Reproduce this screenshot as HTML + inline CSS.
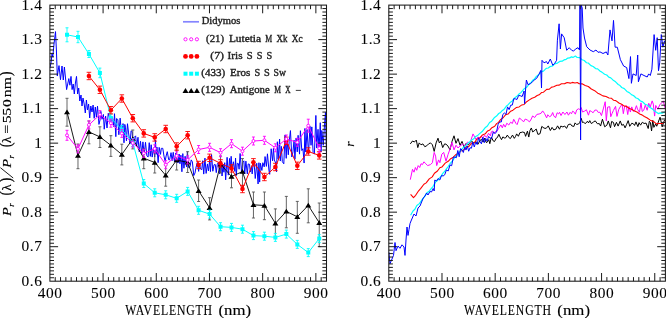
<!DOCTYPE html><html><head><meta charset="utf-8"><style>
html,body{margin:0;padding:0;background:#fff;width:666px;height:318px;overflow:hidden}
svg{display:block}
.tl{font-family:"Liberation Serif",serif;font-size:14.0px;letter-spacing:0.5px;fill:#000;stroke:#000;stroke-width:0.08px}
.al{font-family:"Liberation Serif",serif;font-size:14.0px;letter-spacing:0px;fill:#000;stroke:#000;stroke-width:0.12px}
.al2{font-family:"Liberation Serif",serif;font-size:13.2px;fill:#000;stroke:#000;stroke-width:0.15px}
.lg{font-family:"Liberation Serif",serif;font-size:9.6px;fill:#222;stroke:#222;stroke-width:0.35px}
</style></head><body><svg width="666" height="318" viewBox="0 0 666 318" style="will-change:transform">
<rect width="666" height="318" fill="#fff"/>
<defs><clipPath id="cl"><rect x="49.90" y="5.10" width="276.60" height="276.10"/></clipPath>
<clipPath id="cr"><rect x="388.80" y="5.10" width="276.60" height="276.10"/></clipPath></defs>
<g clip-path="url(#cl)">
<polyline points="49.90,68.00 51.00,63.00 52.00,54.00 52.80,57.00 54.00,44.00 55.50,31.60 56.40,50.00 57.30,76.00 59.00,65.60 60.50,79.70 62.00,66.00 63.30,80.00 64.40,67.00 65.50,78.00 66.60,89.60 68.80,78.60 69.90,85.20 71.00,76.40 72.10,89.60 73.20,84.00 74.30,94.00 75.40,83.00 76.50,76.40 77.60,94.00 78.70,88.00 79.80,101.00 81.00,95.00 82.00,106.00 83.00,98.00 84.20,104.00 85.30,113.00 86.40,100.00 87.50,110.00 88.60,104.00 89.70,118.00 90.80,106.00 92.00,112.00 93.10,105.00 94.20,118.30 95.30,107.00 96.40,117.00 97.50,106.16 98.95,124.42 100.03,119.92 100.82,111.34 101.98,119.28 103.41,114.45 104.22,129.22 105.62,116.08 107.02,127.98 108.26,113.31 109.73,118.05 110.56,124.73 111.75,116.98 112.69,118.73 113.78,126.61 114.50,113.70 115.83,136.66 116.56,118.52 117.87,119.64 118.85,134.74 120.15,118.11 121.61,134.17 123.04,123.59 123.99,142.80 124.81,124.39 125.55,127.79 126.44,140.75 127.48,123.73 128.57,132.93 130.03,143.75 131.08,130.80 132.14,131.60 133.21,145.94 134.14,137.43 135.63,135.87 136.60,146.23 137.99,137.28 139.25,151.81 140.51,141.29 141.77,154.38 142.93,141.89 144.17,154.57 145.51,142.34 146.87,155.80 148.12,156.99 149.24,142.68 150.32,156.38 151.16,144.75 152.20,157.09 153.48,147.73 154.70,157.05 155.43,140.09 156.24,154.34 156.96,147.11 158.14,162.63 159.16,147.37 160.53,154.37 161.30,148.35 162.77,148.32 163.98,156.05 165.13,161.37 166.11,156.01 167.27,151.68 168.68,159.75 169.61,159.85 171.04,152.66 172.14,160.63 173.23,152.34 174.43,161.50 175.79,153.12 177.24,162.37 178.06,162.99 179.14,154.03 179.94,163.78 180.91,155.18 181.90,171.76 182.80,153.62 183.94,168.24 185.10,156.24 186.53,166.81 187.38,151.71 188.75,167.72 190.08,166.38 191.22,159.88 192.38,161.80 193.74,175.62 195.02,172.99 195.76,168.47 197.22,162.64 198.65,171.39 199.48,163.64 200.49,168.88 201.78,169.69 202.73,160.68 203.73,174.09 204.94,158.13 206.13,173.42 207.43,163.92 208.43,171.00 209.65,160.33 210.45,171.62 211.54,154.59 212.82,171.23 214.06,164.70 215.29,164.60 216.28,172.62 217.26,164.43 218.48,162.19 219.59,174.00 220.61,164.83 221.34,161.56 222.04,176.01 223.08,164.11 223.91,172.23 224.73,162.68 225.66,179.86 227.10,157.31 228.34,175.11 229.57,158.45 230.40,168.09 231.17,156.30 232.12,170.10 233.39,161.75 234.84,171.43 235.55,158.13 236.28,175.55 237.26,163.34 238.36,163.58 239.10,169.21 240.12,153.47 241.60,172.90 242.72,162.57 243.86,160.83 244.73,173.90 245.89,161.14 247.32,173.90 248.20,163.95 249.51,164.27 250.28,172.05 251.44,166.55 252.18,173.96 252.96,165.13 254.10,162.99 255.26,178.51 256.73,163.31 258.08,183.97 258.91,162.73 259.66,182.09 260.40,163.23 261.86,170.43 262.85,162.71 264.21,166.87 265.05,156.57 266.39,166.39 267.46,153.82 268.91,170.13 269.69,174.30 271.17,148.74 272.58,160.88 273.44,148.42 274.33,159.96 275.70,163.06 276.52,171.74 277.35,141.74 278.21,159.05 279.60,139.08 280.31,161.04 281.32,146.35 282.33,161.65 283.81,163.81 285.05,134.93 286.22,158.34 286.99,138.98 288.29,154.77 289.21,141.38 290.45,130.59 291.82,156.96 292.93,151.91 294.07,140.21 294.91,159.29 296.10,138.09 297.25,151.86 298.12,135.32 299.53,154.14 300.41,130.71 301.82,150.56 302.94,148.69 304.12,163.04 304.92,128.44 305.77,151.97 307.05,129.47 308.52,153.94 309.96,126.26 311.04,145.31 311.81,126.89 313.12,152.60 314.39,154.09 315.86,115.44 316.73,148.05 318.02,129.32 319.02,150.09 320.27,122.71 321.03,151.91 321.82,130.47 323.26,145.33 324.51,124.96 325.48,112.44 326.52,156.69 327.44,123.97" fill="none" stroke="#0000ff" stroke-width="1.0" stroke-linejoin="round" />
<path d="M67.00 98.30V126.20M65.50 98.30h3.0M65.50 126.20h3.0M77.97 144.00V168.70M76.47 144.00h3.0M76.47 168.70h3.0M88.93 121.00V143.80M87.43 121.00h3.0M87.43 143.80h3.0M99.90 126.80V147.50M98.40 126.80h3.0M98.40 147.50h3.0M110.87 135.70V156.40M109.37 135.70h3.0M109.37 156.40h3.0M121.84 144.20V164.90M120.34 144.20h3.0M120.34 164.90h3.0M132.80 130.00V148.90M131.30 130.00h3.0M131.30 148.90h3.0M143.77 148.90V168.70M142.27 148.90h3.0M142.27 168.70h3.0M154.74 152.60V173.00M153.24 152.60h3.0M153.24 173.00h3.0M165.70 164.90V186.20M164.20 164.90h3.0M164.20 186.20h3.0M176.67 150.00V170.00M175.17 150.00h3.0M175.17 170.00h3.0M187.64 151.70V172.50M186.14 151.70h3.0M186.14 172.50h3.0M198.60 180.00V201.50M197.10 180.00h3.0M197.10 201.50h3.0M209.57 197.70V219.90M208.07 197.70h3.0M208.07 219.90h3.0M220.54 156.00V173.00M219.04 156.00h3.0M219.04 173.00h3.0M231.50 165.20V187.80M230.00 165.20h3.0M230.00 187.80h3.0M242.47 158.60V186.00M240.97 158.60h3.0M240.97 186.00h3.0M253.44 192.00V218.00M251.94 192.00h3.0M251.94 218.00h3.0M264.41 192.00V219.70M262.91 192.00h3.0M262.91 219.70h3.0M275.37 208.90V236.60M273.87 208.90h3.0M273.87 236.60h3.0M286.34 196.40V227.80M284.84 196.40h3.0M284.84 227.80h3.0M297.31 201.40V233.30M295.81 201.40h3.0M295.81 233.30h3.0M308.27 188.80V222.80M306.77 188.80h3.0M306.77 222.80h3.0M319.24 203.00V246.60M317.74 203.00h3.0M317.74 246.60h3.0" stroke="#555" stroke-width="0.9" fill="none"/>
<polyline points="67.00,112.00 77.97,155.50 88.93,131.90 99.90,136.90 110.87,145.30 121.84,154.50 132.80,138.80 143.77,158.20 154.74,162.50 165.70,175.30 176.67,160.10 187.64,162.30 198.60,190.80 209.57,207.80 220.54,164.20 231.50,176.50 242.47,171.60 253.44,204.80 264.41,205.50 275.37,223.30 286.34,211.40 297.31,216.80 308.27,205.40 319.24,222.70" fill="none" stroke="#000" stroke-width="0.9" stroke-linejoin="round" />
<path d="M64.00 114.20L70.00 114.20L67.00 109.40ZM74.97 157.70L80.97 157.70L77.97 152.90ZM85.93 134.10L91.93 134.10L88.93 129.30ZM96.90 139.10L102.90 139.10L99.90 134.30ZM107.87 147.50L113.87 147.50L110.87 142.70ZM118.84 156.70L124.84 156.70L121.84 151.90ZM129.80 141.00L135.80 141.00L132.80 136.20ZM140.77 160.40L146.77 160.40L143.77 155.60ZM151.74 164.70L157.74 164.70L154.74 159.90ZM162.70 177.50L168.70 177.50L165.70 172.70ZM173.67 162.30L179.67 162.30L176.67 157.50ZM184.64 164.50L190.64 164.50L187.64 159.70ZM195.60 193.00L201.60 193.00L198.60 188.20ZM206.57 210.00L212.57 210.00L209.57 205.20ZM217.54 166.40L223.54 166.40L220.54 161.60ZM228.50 178.70L234.50 178.70L231.50 173.90ZM239.47 173.80L245.47 173.80L242.47 169.00ZM250.44 207.00L256.44 207.00L253.44 202.20ZM261.41 207.70L267.41 207.70L264.41 202.90ZM272.37 225.50L278.37 225.50L275.37 220.70ZM283.34 213.60L289.34 213.60L286.34 208.80ZM294.31 219.00L300.31 219.00L297.31 214.20ZM305.27 207.60L311.27 207.60L308.27 202.80ZM316.24 224.90L322.24 224.90L319.24 220.10Z" fill="#000"/>
<path d="M67.00 27.80V41.80M65.50 27.80h3.0M65.50 41.80h3.0M77.97 31.30V42.70M76.47 31.30h3.0M76.47 42.70h3.0M88.93 50.50V57.50M87.43 50.50h3.0M87.43 57.50h3.0M99.90 68.10V77.70M98.40 68.10h3.0M98.40 77.70h3.0M110.87 114.00V122.00M109.37 114.00h3.0M109.37 122.00h3.0M121.84 125.50V133.50M120.34 125.50h3.0M120.34 133.50h3.0M132.80 138.50V146.50M131.30 138.50h3.0M131.30 146.50h3.0M143.77 179.50V187.50M142.27 179.50h3.0M142.27 187.50h3.0M154.74 188.80V196.80M153.24 188.80h3.0M153.24 196.80h3.0M165.70 190.80V198.80M164.20 190.80h3.0M164.20 198.80h3.0M176.67 194.30V202.30M175.17 194.30h3.0M175.17 202.30h3.0M187.64 187.40V195.40M186.14 187.40h3.0M186.14 195.40h3.0M198.60 206.30V214.30M197.10 206.30h3.0M197.10 214.30h3.0M209.57 210.10V218.10M208.07 210.10h3.0M208.07 218.10h3.0M220.54 222.70V230.70M219.04 222.70h3.0M219.04 230.70h3.0M231.50 223.40V231.40M230.00 223.40h3.0M230.00 231.40h3.0M242.47 225.20V233.20M240.97 225.20h3.0M240.97 233.20h3.0M253.44 231.60V239.60M251.94 231.60h3.0M251.94 239.60h3.0M264.41 232.20V240.20M262.91 232.20h3.0M262.91 240.20h3.0M275.37 233.40V241.40M273.87 233.40h3.0M273.87 241.40h3.0M286.34 230.10V238.10M284.84 230.10h3.0M284.84 238.10h3.0M297.31 240.40V248.40M295.81 240.40h3.0M295.81 248.40h3.0M308.27 248.60V256.60M306.77 248.60h3.0M306.77 256.60h3.0M319.24 234.60V242.60M317.74 234.60h3.0M317.74 242.60h3.0" stroke="#00ffff" stroke-width="0.9" fill="none"/>
<polyline points="67.00,34.80 77.97,37.00 88.93,54.00 99.90,72.90 110.87,118.00 121.84,129.50 132.80,142.50 143.77,183.50 154.74,192.80 165.70,194.80 176.67,198.30 187.64,191.40 198.60,210.30 209.57,214.10 220.54,226.70 231.50,227.40 242.47,229.20 253.44,235.60 264.41,236.20 275.37,237.40 286.34,234.10 297.31,244.40 308.27,252.60 319.24,238.60" fill="none" stroke="#00ffff" stroke-width="1.0" stroke-linejoin="round" />
<path d="M65.00 32.80h4v4h-4ZM75.97 35.00h4v4h-4ZM86.93 52.00h4v4h-4ZM97.90 70.90h4v4h-4ZM108.87 116.00h4v4h-4ZM119.84 127.50h4v4h-4ZM130.80 140.50h4v4h-4ZM141.77 181.50h4v4h-4ZM152.74 190.80h4v4h-4ZM163.70 192.80h4v4h-4ZM174.67 196.30h4v4h-4ZM185.64 189.40h4v4h-4ZM196.60 208.30h4v4h-4ZM207.57 212.10h4v4h-4ZM218.54 224.70h4v4h-4ZM229.50 225.40h4v4h-4ZM240.47 227.20h4v4h-4ZM251.44 233.60h4v4h-4ZM262.41 234.20h4v4h-4ZM273.37 235.40h4v4h-4ZM284.34 232.10h4v4h-4ZM295.31 242.40h4v4h-4ZM306.27 250.60h4v4h-4ZM317.24 236.60h4v4h-4Z" fill="#00ffff"/>
<path d="M88.93 72.30V79.70M86.63 72.30h4.6M86.63 79.70h4.6M99.90 86.10V93.50M97.60 86.10h4.6M97.60 93.50h4.6M110.87 106.50V113.90M108.57 106.50h4.6M108.57 113.90h4.6M121.84 94.80V102.20M119.54 94.80h4.6M119.54 102.20h4.6M132.80 114.50V121.90M130.50 114.50h4.6M130.50 121.90h4.6M143.77 129.70V137.10M141.47 129.70h4.6M141.47 137.10h4.6M154.74 133.70V141.10M152.44 133.70h4.6M152.44 141.10h4.6M165.70 125.30V132.70M163.40 125.30h4.6M163.40 132.70h4.6M176.67 142.80V150.20M174.37 142.80h4.6M174.37 150.20h4.6M187.64 131.50V138.90M185.34 131.50h4.6M185.34 138.90h4.6M198.60 161.30V168.70M196.30 161.30h4.6M196.30 168.70h4.6M209.57 154.10V161.50M207.27 154.10h4.6M207.27 161.50h4.6M220.54 159.70V167.10M218.24 159.70h4.6M218.24 167.10h4.6M231.50 164.70V172.10M229.20 164.70h4.6M229.20 172.10h4.6M242.47 185.30V192.70M240.17 185.30h4.6M240.17 192.70h4.6M253.44 158.60V166.00M251.14 158.60h4.6M251.14 166.00h4.6M264.41 173.30V180.70M262.11 173.30h4.6M262.11 180.70h4.6M275.37 163.30V170.70M273.07 163.30h4.6M273.07 170.70h4.6M286.34 137.10V144.50M284.04 137.10h4.6M284.04 144.50h4.6M297.31 162.10V169.50M295.01 162.10h4.6M295.01 169.50h4.6M308.27 147.80V155.20M305.97 147.80h4.6M305.97 155.20h4.6M319.24 151.70V159.10M316.94 151.70h4.6M316.94 159.10h4.6" stroke="#ff0000" stroke-width="0.9" fill="none"/>
<polyline points="88.93,76.00 99.90,89.80 110.87,110.20 121.84,98.50 132.80,118.20 143.77,133.40 154.74,137.40 165.70,129.00 176.67,146.50 187.64,135.20 198.60,165.00 209.57,157.80 220.54,163.40 231.50,168.40 242.47,189.00 253.44,162.30 264.41,177.00 275.37,167.00 286.34,140.80 297.31,165.80 308.27,151.50 319.24,155.40" fill="none" stroke="#ff0000" stroke-width="1.0" stroke-linejoin="round" />
<circle cx="88.93" cy="76.00" r="2.3" fill="#ff0000"/>
<circle cx="99.90" cy="89.80" r="2.3" fill="#ff0000"/>
<circle cx="110.87" cy="110.20" r="2.3" fill="#ff0000"/>
<circle cx="121.84" cy="98.50" r="2.3" fill="#ff0000"/>
<circle cx="132.80" cy="118.20" r="2.3" fill="#ff0000"/>
<circle cx="143.77" cy="133.40" r="2.3" fill="#ff0000"/>
<circle cx="154.74" cy="137.40" r="2.3" fill="#ff0000"/>
<circle cx="165.70" cy="129.00" r="2.3" fill="#ff0000"/>
<circle cx="176.67" cy="146.50" r="2.3" fill="#ff0000"/>
<circle cx="187.64" cy="135.20" r="2.3" fill="#ff0000"/>
<circle cx="198.60" cy="165.00" r="2.3" fill="#ff0000"/>
<circle cx="209.57" cy="157.80" r="2.3" fill="#ff0000"/>
<circle cx="220.54" cy="163.40" r="2.3" fill="#ff0000"/>
<circle cx="231.50" cy="168.40" r="2.3" fill="#ff0000"/>
<circle cx="242.47" cy="189.00" r="2.3" fill="#ff0000"/>
<circle cx="253.44" cy="162.30" r="2.3" fill="#ff0000"/>
<circle cx="264.41" cy="177.00" r="2.3" fill="#ff0000"/>
<circle cx="275.37" cy="167.00" r="2.3" fill="#ff0000"/>
<circle cx="286.34" cy="140.80" r="2.3" fill="#ff0000"/>
<circle cx="297.31" cy="165.80" r="2.3" fill="#ff0000"/>
<circle cx="308.27" cy="151.50" r="2.3" fill="#ff0000"/>
<circle cx="319.24" cy="155.40" r="2.3" fill="#ff0000"/>
<path d="M67.00 130.30V140.30M65.50 130.30h3.0M65.50 140.30h3.0M77.97 144.90V152.90M76.47 144.90h3.0M76.47 152.90h3.0M88.93 120.90V128.90M87.43 120.90h3.0M87.43 128.90h3.0M99.90 110.60V118.60M98.40 110.60h3.0M98.40 118.60h3.0M110.87 119.20V127.20M109.37 119.20h3.0M109.37 127.20h3.0M121.84 129.40V137.40M120.34 129.40h3.0M120.34 137.40h3.0M132.80 139.00V147.00M131.30 139.00h3.0M131.30 147.00h3.0M143.77 149.30V157.30M142.27 149.30h3.0M142.27 157.30h3.0M154.74 144.80V152.80M153.24 144.80h3.0M153.24 152.80h3.0M165.70 160.70V168.70M164.20 160.70h3.0M164.20 168.70h3.0M176.67 151.80V159.80M175.17 151.80h3.0M175.17 159.80h3.0M187.64 155.90V163.90M186.14 155.90h3.0M186.14 163.90h3.0M198.60 145.50V153.50M197.10 145.50h3.0M197.10 153.50h3.0M209.57 143.30V151.30M208.07 143.30h3.0M208.07 151.30h3.0M220.54 148.70V156.70M219.04 148.70h3.0M219.04 156.70h3.0M231.50 139.70V147.70M230.00 139.70h3.0M230.00 147.70h3.0M242.47 147.20V155.20M240.97 147.20h3.0M240.97 155.20h3.0M253.44 137.00V145.00M251.94 137.00h3.0M251.94 145.00h3.0M264.41 136.30V144.30M262.91 136.30h3.0M262.91 144.30h3.0M275.37 143.80V151.80M273.87 143.80h3.0M273.87 151.80h3.0M286.34 135.00V143.00M284.84 135.00h3.0M284.84 143.00h3.0M297.31 138.30V146.30M295.81 138.30h3.0M295.81 146.30h3.0M308.27 119.20V132.20M306.77 119.20h3.0M306.77 132.20h3.0M319.24 144.30V152.30M317.74 144.30h3.0M317.74 152.30h3.0" stroke="#ff00ff" stroke-width="0.9" fill="none"/>
<polyline points="67.00,135.30 77.97,148.90 88.93,124.90 99.90,114.60 110.87,123.20 121.84,133.40 132.80,143.00 143.77,153.30 154.74,148.80 165.70,164.70 176.67,155.80 187.64,159.90 198.60,149.50 209.57,147.30 220.54,152.70 231.50,143.70 242.47,151.20 253.44,141.00 264.41,140.30 275.37,147.80 286.34,139.00 297.31,142.30 308.27,125.70 319.24,148.30" fill="none" stroke="#ff00ff" stroke-width="1.0" stroke-linejoin="round" />
<circle cx="67.00" cy="135.30" r="1.5" fill="#fff" stroke="#ff00ff" stroke-width="0.9"/>
<circle cx="77.97" cy="148.90" r="1.5" fill="#fff" stroke="#ff00ff" stroke-width="0.9"/>
<circle cx="88.93" cy="124.90" r="1.5" fill="#fff" stroke="#ff00ff" stroke-width="0.9"/>
<circle cx="99.90" cy="114.60" r="1.5" fill="#fff" stroke="#ff00ff" stroke-width="0.9"/>
<circle cx="110.87" cy="123.20" r="1.5" fill="#fff" stroke="#ff00ff" stroke-width="0.9"/>
<circle cx="121.84" cy="133.40" r="1.5" fill="#fff" stroke="#ff00ff" stroke-width="0.9"/>
<circle cx="132.80" cy="143.00" r="1.5" fill="#fff" stroke="#ff00ff" stroke-width="0.9"/>
<circle cx="143.77" cy="153.30" r="1.5" fill="#fff" stroke="#ff00ff" stroke-width="0.9"/>
<circle cx="154.74" cy="148.80" r="1.5" fill="#fff" stroke="#ff00ff" stroke-width="0.9"/>
<circle cx="165.70" cy="164.70" r="1.5" fill="#fff" stroke="#ff00ff" stroke-width="0.9"/>
<circle cx="176.67" cy="155.80" r="1.5" fill="#fff" stroke="#ff00ff" stroke-width="0.9"/>
<circle cx="187.64" cy="159.90" r="1.5" fill="#fff" stroke="#ff00ff" stroke-width="0.9"/>
<circle cx="198.60" cy="149.50" r="1.5" fill="#fff" stroke="#ff00ff" stroke-width="0.9"/>
<circle cx="209.57" cy="147.30" r="1.5" fill="#fff" stroke="#ff00ff" stroke-width="0.9"/>
<circle cx="220.54" cy="152.70" r="1.5" fill="#fff" stroke="#ff00ff" stroke-width="0.9"/>
<circle cx="231.50" cy="143.70" r="1.5" fill="#fff" stroke="#ff00ff" stroke-width="0.9"/>
<circle cx="242.47" cy="151.20" r="1.5" fill="#fff" stroke="#ff00ff" stroke-width="0.9"/>
<circle cx="253.44" cy="141.00" r="1.5" fill="#fff" stroke="#ff00ff" stroke-width="0.9"/>
<circle cx="264.41" cy="140.30" r="1.5" fill="#fff" stroke="#ff00ff" stroke-width="0.9"/>
<circle cx="275.37" cy="147.80" r="1.5" fill="#fff" stroke="#ff00ff" stroke-width="0.9"/>
<circle cx="286.34" cy="139.00" r="1.5" fill="#fff" stroke="#ff00ff" stroke-width="0.9"/>
<circle cx="297.31" cy="142.30" r="1.5" fill="#fff" stroke="#ff00ff" stroke-width="0.9"/>
<circle cx="308.27" cy="125.70" r="1.5" fill="#fff" stroke="#ff00ff" stroke-width="0.9"/>
<circle cx="319.24" cy="148.30" r="1.5" fill="#fff" stroke="#ff00ff" stroke-width="0.9"/>
</g>
<line x1="183" y1="21.80" x2="199" y2="21.80" stroke="#8585ff" stroke-width="1.7"/>
<circle cx="185.50" cy="39.30" r="1.6" fill="#fff" stroke="#ff00ff" stroke-width="0.9"/>
<circle cx="185.50" cy="56.40" r="2.4" fill="#ff0000"/>
<rect x="183.50" y="71.70" width="4" height="4" fill="#00ffff"/>
<path d="M182.50 93.00L188.50 93.00L185.50 88.00Z" fill="#000"/>
<circle cx="191.20" cy="39.30" r="1.6" fill="#fff" stroke="#ff00ff" stroke-width="0.9"/>
<circle cx="191.20" cy="56.40" r="2.4" fill="#ff0000"/>
<rect x="189.20" y="71.70" width="4" height="4" fill="#00ffff"/>
<path d="M188.20 93.00L194.20 93.00L191.20 88.00Z" fill="#000"/>
<circle cx="196.90" cy="39.30" r="1.6" fill="#fff" stroke="#ff00ff" stroke-width="0.9"/>
<circle cx="196.90" cy="56.40" r="2.4" fill="#ff0000"/>
<rect x="194.90" y="71.70" width="4" height="4" fill="#00ffff"/>
<path d="M193.90 93.00L199.90 93.00L196.90 88.00Z" fill="#000"/>
<text class="lg" x="201.70" y="24.10" textLength="38.60" lengthAdjust="spacingAndGlyphs">Didymos</text>
<text class="lg" x="206.10" y="41.60" textLength="17.90" lengthAdjust="spacingAndGlyphs">(21)</text>
<text class="lg" x="228.90" y="41.60" textLength="32.10" lengthAdjust="spacingAndGlyphs">Lutetia</text>
<text class="lg" x="265.30" y="41.60" textLength="6.90" lengthAdjust="spacingAndGlyphs">M</text>
<text class="lg" x="276.40" y="41.60" textLength="11.00" lengthAdjust="spacingAndGlyphs">Xk</text>
<text class="lg" x="291.70" y="41.60" textLength="10.80" lengthAdjust="spacingAndGlyphs">Xc</text>
<text class="lg" x="210.30" y="58.70" textLength="13.70" lengthAdjust="spacingAndGlyphs">(7)</text>
<text class="lg" x="227.60" y="58.70" textLength="15.00" lengthAdjust="spacingAndGlyphs">Iris</text>
<text class="lg" x="246.80" y="58.70" textLength="5.90" lengthAdjust="spacingAndGlyphs">S</text>
<text class="lg" x="256.80" y="58.70" textLength="5.70" lengthAdjust="spacingAndGlyphs">S</text>
<text class="lg" x="266.60" y="58.70" textLength="5.70" lengthAdjust="spacingAndGlyphs">S</text>
<text class="lg" x="201.30" y="76.00" textLength="23.90" lengthAdjust="spacingAndGlyphs">(433)</text>
<text class="lg" x="230.00" y="76.00" textLength="20.20" lengthAdjust="spacingAndGlyphs">Eros</text>
<text class="lg" x="254.40" y="76.00" textLength="5.70" lengthAdjust="spacingAndGlyphs">S</text>
<text class="lg" x="264.10" y="76.00" textLength="5.80" lengthAdjust="spacingAndGlyphs">S</text>
<text class="lg" x="273.60" y="76.00" textLength="12.40" lengthAdjust="spacingAndGlyphs">Sw</text>
<text class="lg" x="201.30" y="92.90" textLength="23.90" lengthAdjust="spacingAndGlyphs">(129)</text>
<text class="lg" x="229.70" y="92.90" textLength="40.00" lengthAdjust="spacingAndGlyphs">Antigone</text>
<text class="lg" x="274.20" y="92.90" textLength="6.70" lengthAdjust="spacingAndGlyphs">M</text>
<text class="lg" x="285.30" y="92.90" textLength="5.30" lengthAdjust="spacingAndGlyphs">X</text>
<line x1="295.8" y1="90.40" x2="300.9" y2="90.40" stroke="#2a2a2a" stroke-width="0.9"/>
<rect x="49.90" y="5.10" width="276.60" height="276.10" fill="none" stroke="#1a1a1a" stroke-width="1.05"/>
<path d="M55.22 281.20v-4.1M55.22 5.10v4.1M60.54 281.20v-4.1M60.54 5.10v4.1M65.86 281.20v-4.1M65.86 5.10v4.1M71.18 281.20v-4.1M71.18 5.10v4.1M76.50 281.20v-4.1M76.50 5.10v4.1M81.82 281.20v-4.1M81.82 5.10v4.1M87.13 281.20v-4.1M87.13 5.10v4.1M92.45 281.20v-4.1M92.45 5.10v4.1M97.77 281.20v-4.1M97.77 5.10v4.1M103.09 281.20v-8.2M103.09 5.10v8.2M108.41 281.20v-4.1M108.41 5.10v4.1M113.73 281.20v-4.1M113.73 5.10v4.1M119.05 281.20v-4.1M119.05 5.10v4.1M124.37 281.20v-4.1M124.37 5.10v4.1M129.69 281.20v-4.1M129.69 5.10v4.1M135.01 281.20v-4.1M135.01 5.10v4.1M140.33 281.20v-4.1M140.33 5.10v4.1M145.65 281.20v-4.1M145.65 5.10v4.1M150.97 281.20v-4.1M150.97 5.10v4.1M156.28 281.20v-8.2M156.28 5.10v8.2M161.60 281.20v-4.1M161.60 5.10v4.1M166.92 281.20v-4.1M166.92 5.10v4.1M172.24 281.20v-4.1M172.24 5.10v4.1M177.56 281.20v-4.1M177.56 5.10v4.1M182.88 281.20v-4.1M182.88 5.10v4.1M188.20 281.20v-4.1M188.20 5.10v4.1M193.52 281.20v-4.1M193.52 5.10v4.1M198.84 281.20v-4.1M198.84 5.10v4.1M204.16 281.20v-4.1M204.16 5.10v4.1M209.48 281.20v-8.2M209.48 5.10v8.2M214.80 281.20v-4.1M214.80 5.10v4.1M220.12 281.20v-4.1M220.12 5.10v4.1M225.43 281.20v-4.1M225.43 5.10v4.1M230.75 281.20v-4.1M230.75 5.10v4.1M236.07 281.20v-4.1M236.07 5.10v4.1M241.39 281.20v-4.1M241.39 5.10v4.1M246.71 281.20v-4.1M246.71 5.10v4.1M252.03 281.20v-4.1M252.03 5.10v4.1M257.35 281.20v-4.1M257.35 5.10v4.1M262.67 281.20v-8.2M262.67 5.10v8.2M267.99 281.20v-4.1M267.99 5.10v4.1M273.31 281.20v-4.1M273.31 5.10v4.1M278.63 281.20v-4.1M278.63 5.10v4.1M283.95 281.20v-4.1M283.95 5.10v4.1M289.27 281.20v-4.1M289.27 5.10v4.1M294.58 281.20v-4.1M294.58 5.10v4.1M299.90 281.20v-4.1M299.90 5.10v4.1M305.22 281.20v-4.1M305.22 5.10v4.1M310.54 281.20v-4.1M310.54 5.10v4.1M315.86 281.20v-8.2M315.86 5.10v8.2M321.18 281.20v-4.1M321.18 5.10v4.1M49.90 277.75h4.1M326.50 277.75h-4.1M49.90 274.30h4.1M326.50 274.30h-4.1M49.90 270.85h4.1M326.50 270.85h-4.1M49.90 267.39h4.1M326.50 267.39h-4.1M49.90 263.94h4.1M326.50 263.94h-4.1M49.90 260.49h4.1M326.50 260.49h-4.1M49.90 257.04h4.1M326.50 257.04h-4.1M49.90 253.59h4.1M326.50 253.59h-4.1M49.90 250.14h4.1M326.50 250.14h-4.1M49.90 246.69h8.2M326.50 246.69h-8.2M49.90 243.24h4.1M326.50 243.24h-4.1M49.90 239.78h4.1M326.50 239.78h-4.1M49.90 236.33h4.1M326.50 236.33h-4.1M49.90 232.88h4.1M326.50 232.88h-4.1M49.90 229.43h4.1M326.50 229.43h-4.1M49.90 225.98h4.1M326.50 225.98h-4.1M49.90 222.53h4.1M326.50 222.53h-4.1M49.90 219.08h4.1M326.50 219.08h-4.1M49.90 215.63h4.1M326.50 215.63h-4.1M49.90 212.17h8.2M326.50 212.17h-8.2M49.90 208.72h4.1M326.50 208.72h-4.1M49.90 205.27h4.1M326.50 205.27h-4.1M49.90 201.82h4.1M326.50 201.82h-4.1M49.90 198.37h4.1M326.50 198.37h-4.1M49.90 194.92h4.1M326.50 194.92h-4.1M49.90 191.47h4.1M326.50 191.47h-4.1M49.90 188.02h4.1M326.50 188.02h-4.1M49.90 184.56h4.1M326.50 184.56h-4.1M49.90 181.11h4.1M326.50 181.11h-4.1M49.90 177.66h8.2M326.50 177.66h-8.2M49.90 174.21h4.1M326.50 174.21h-4.1M49.90 170.76h4.1M326.50 170.76h-4.1M49.90 167.31h4.1M326.50 167.31h-4.1M49.90 163.86h4.1M326.50 163.86h-4.1M49.90 160.41h4.1M326.50 160.41h-4.1M49.90 156.96h4.1M326.50 156.96h-4.1M49.90 153.50h4.1M326.50 153.50h-4.1M49.90 150.05h4.1M326.50 150.05h-4.1M49.90 146.60h4.1M326.50 146.60h-4.1M49.90 143.15h8.2M326.50 143.15h-8.2M49.90 139.70h4.1M326.50 139.70h-4.1M49.90 136.25h4.1M326.50 136.25h-4.1M49.90 132.80h4.1M326.50 132.80h-4.1M49.90 129.34h4.1M326.50 129.34h-4.1M49.90 125.89h4.1M326.50 125.89h-4.1M49.90 122.44h4.1M326.50 122.44h-4.1M49.90 118.99h4.1M326.50 118.99h-4.1M49.90 115.54h4.1M326.50 115.54h-4.1M49.90 112.09h4.1M326.50 112.09h-4.1M49.90 108.64h8.2M326.50 108.64h-8.2M49.90 105.19h4.1M326.50 105.19h-4.1M49.90 101.73h4.1M326.50 101.73h-4.1M49.90 98.28h4.1M326.50 98.28h-4.1M49.90 94.83h4.1M326.50 94.83h-4.1M49.90 91.38h4.1M326.50 91.38h-4.1M49.90 87.93h4.1M326.50 87.93h-4.1M49.90 84.48h4.1M326.50 84.48h-4.1M49.90 81.03h4.1M326.50 81.03h-4.1M49.90 77.58h4.1M326.50 77.58h-4.1M49.90 74.13h8.2M326.50 74.13h-8.2M49.90 70.67h4.1M326.50 70.67h-4.1M49.90 67.22h4.1M326.50 67.22h-4.1M49.90 63.77h4.1M326.50 63.77h-4.1M49.90 60.32h4.1M326.50 60.32h-4.1M49.90 56.87h4.1M326.50 56.87h-4.1M49.90 53.42h4.1M326.50 53.42h-4.1M49.90 49.97h4.1M326.50 49.97h-4.1M49.90 46.52h4.1M326.50 46.52h-4.1M49.90 43.06h4.1M326.50 43.06h-4.1M49.90 39.61h8.2M326.50 39.61h-8.2M49.90 36.16h4.1M326.50 36.16h-4.1M49.90 32.71h4.1M326.50 32.71h-4.1M49.90 29.26h4.1M326.50 29.26h-4.1M49.90 25.81h4.1M326.50 25.81h-4.1M49.90 22.36h4.1M326.50 22.36h-4.1M49.90 18.91h4.1M326.50 18.91h-4.1M49.90 15.45h4.1M326.50 15.45h-4.1M49.90 12.00h4.1M326.50 12.00h-4.1M49.90 8.55h4.1M326.50 8.55h-4.1" stroke="#1a1a1a" stroke-width="1.0" fill="none"/>
<text class="tl" transform="translate(50.17,297.9) scale(1.1,1)" text-anchor="middle">400</text>
<text class="tl" transform="translate(103.37,297.9) scale(1.1,1)" text-anchor="middle">500</text>
<text class="tl" transform="translate(156.56,297.9) scale(1.1,1)" text-anchor="middle">600</text>
<text class="tl" transform="translate(209.75,297.9) scale(1.1,1)" text-anchor="middle">700</text>
<text class="tl" transform="translate(262.94,297.9) scale(1.1,1)" text-anchor="middle">800</text>
<text class="tl" transform="translate(316.14,297.9) scale(1.1,1)" text-anchor="middle">900</text>
<text class="tl" transform="translate(42.45,285.90) scale(1.1,1)" text-anchor="end">0.6</text>
<text class="tl" transform="translate(42.45,251.39) scale(1.1,1)" text-anchor="end">0.7</text>
<text class="tl" transform="translate(42.45,216.87) scale(1.1,1)" text-anchor="end">0.8</text>
<text class="tl" transform="translate(42.45,182.36) scale(1.1,1)" text-anchor="end">0.9</text>
<text class="tl" transform="translate(42.45,147.85) scale(1.1,1)" text-anchor="end">1</text>
<text class="tl" transform="translate(42.45,113.34) scale(1.1,1)" text-anchor="end">1.1</text>
<text class="tl" transform="translate(42.45,78.82) scale(1.1,1)" text-anchor="end">1.2</text>
<text class="tl" transform="translate(42.45,44.31) scale(1.1,1)" text-anchor="end">1.3</text>
<text class="tl" transform="translate(42.45,9.80) scale(1.1,1)" text-anchor="end">1.4</text>
<text class="al" transform="translate(125.15,315.3) scale(0.84,1)" textLength="103.51" lengthAdjust="spacing">WAVELENGTH</text>
<text class="al" x="218.45" y="315.3" textLength="32.65" lengthAdjust="spacingAndGlyphs">(nm)</text>
<g transform="translate(11.0,0) rotate(-90)" class="al2"><text transform="translate(-211.45,0) scale(1.1,1)" text-anchor="middle" font-style="italic">P</text><text x="-205.10" y="3.4" text-anchor="middle" font-style="italic" font-size="9">r</text><text transform="translate(-193.00,0) scale(1.1,1.22)" text-anchor="middle">(</text><text transform="translate(-187.60,0) scale(1.0,1)" text-anchor="middle">λ</text><text transform="translate(-180.00,0) scale(1.1,1.22)" text-anchor="middle">)</text><line x1="-178" y1="2.2" x2="-167.7" y2="-10.6" stroke="#111" stroke-width="0.95"/><text transform="translate(-163.25,0) scale(1.1,1)" text-anchor="middle" font-style="italic">P</text><text x="-156.65" y="3.4" text-anchor="middle" font-style="italic" font-size="9">r</text><text transform="translate(-144.80,0) scale(1.1,1.22)" text-anchor="middle">(</text><text transform="translate(-139.90,0) scale(1.0,1)" text-anchor="middle">λ</text><text transform="translate(-129.40,0) scale(1.2,1)" text-anchor="middle">=</text><text transform="translate(-119.45,0) scale(1.18,1)" text-anchor="middle">5</text><text transform="translate(-111.80,0) scale(1.18,1)" text-anchor="middle">5</text><text transform="translate(-103.00,0) scale(1.18,1)" text-anchor="middle">0</text><text transform="translate(-93.35,0) scale(1.2,1)" text-anchor="middle">n</text><text transform="translate(-83.20,0) scale(1.2,1)" text-anchor="middle">m</text><text transform="translate(-73.80,0) scale(1.1,1.22)" text-anchor="middle">)</text></g>
<g clip-path="url(#cr)">
<polyline points="410.30,143.90 412.50,141.00 414.40,142.00 416.30,140.10 417.80,147.60 419.20,142.90 421.00,144.80 422.90,143.90 424.80,146.70 426.70,145.80 428.60,143.90 430.50,142.90 432.40,144.80 434.20,151.40 436.10,142.90 438.00,138.20 439.30,142.90 440.80,141.00 442.70,147.60 444.60,143.90 446.00,144.20 448.00,146.10 450.00,149.90 452.00,141.40 454.00,135.80 456.00,143.30 458.00,138.60 460.00,145.20 462.00,141.40 464.00,147.10 466.00,143.30 468.00,145.20 470.00,143.30 472.00,141.40 474.00,143.30 476.00,141.40 478.00,144.20 480.00,140.50 481.50,139.32 483.06,142.07 484.67,138.24 486.02,142.20 487.03,142.45 488.78,139.64 489.82,143.69 491.37,137.15 493.15,140.84 494.47,141.55 496.33,138.14 497.38,137.57 498.84,134.28 500.07,137.07 501.53,139.66 502.84,136.92 504.77,138.08 505.81,137.72 507.34,135.08 509.12,137.75 510.43,138.52 512.52,135.05 514.30,138.36 515.59,136.42 516.65,133.88 518.38,136.28 519.96,132.59 521.11,132.52 522.32,132.00 524.49,132.52 525.59,136.33 527.45,131.14 528.78,137.05 530.04,130.31 531.35,127.98 532.66,131.91 534.09,130.99 536.19,129.01 537.90,134.38 540.02,133.74 541.80,126.41 544.04,128.11 546.15,128.40 548.28,125.86 550.36,130.53 552.05,127.38 553.79,129.93 555.88,129.14 557.58,125.85 559.50,129.22 560.75,126.08 562.89,126.92 564.72,126.03 566.52,128.38 568.34,124.53 570.47,124.04 571.83,125.91 573.88,126.45 575.06,122.89 576.54,124.43 578.58,123.99 579.58,122.81 581.27,118.35 582.40,122.44 583.67,122.11 585.20,123.76 587.39,121.28 588.57,122.89 589.76,120.63 591.39,123.61 593.36,122.06 595.25,120.85 597.37,123.72 599.35,123.64 600.58,126.05 602.45,119.21 604.66,126.75 606.79,125.32 608.31,120.94 609.31,124.09 610.49,127.81 611.64,121.46 613.48,122.43 614.55,126.71 616.45,122.30 618.12,126.10 620.24,120.93 621.87,125.34 623.47,124.38 625.09,127.86 626.68,124.22 628.17,120.62 629.74,126.32 631.85,123.17 633.60,123.96 634.59,125.45 635.96,121.90 637.86,126.64 639.07,122.67 640.56,125.17 642.33,122.28 644.07,123.49 646.07,123.08 648.21,128.54 649.34,121.26 650.42,122.51 651.55,130.97 652.76,120.39 653.87,127.36 655.71,123.83 656.72,126.26 657.86,123.21 660.09,117.26 662.27,126.83 663.83,121.56 664.80,119.65" fill="none" stroke="#000" stroke-width="1.0" stroke-linejoin="round" />
<polyline points="410.30,179.70 412.50,169.30 414.00,172.20 415.40,167.50 416.70,170.30 418.20,165.60 419.70,167.50 421.00,163.70 422.40,164.60 423.90,161.80 425.80,163.70 427.60,165.60 430.50,164.60 432.40,162.70 434.20,152.40 435.60,156.10 436.70,165.60 438.60,159.90 439.90,162.70 441.80,154.20 443.70,152.40 446.00,161.20 448.00,154.60 450.00,149.00 452.00,142.40 454.00,149.90 456.00,145.20 458.00,148.00 460.00,146.10 462.50,144.00 465.00,146.00 467.50,142.00 470.00,143.00 473.00,133.90 476.00,139.50 478.00,137.00 480.00,138.30 481.50,136.10 482.64,138.40 484.64,135.21 486.45,137.32 488.57,133.34 490.41,135.81 491.39,131.79 492.47,131.06 493.97,133.43 495.14,131.73 497.14,130.95 498.71,128.21 500.91,124.92 502.33,127.83 503.59,124.25 505.19,127.09 506.82,123.20 508.77,125.00 510.62,122.18 512.39,123.44 513.71,119.28 515.90,123.34 517.10,124.64 518.40,120.87 519.37,118.01 521.61,119.75 523.58,121.89 525.21,119.04 527.39,120.06 529.46,121.85 531.32,118.98 532.60,115.95 534.70,117.52 536.91,114.37 539.10,114.02 541.21,113.16 542.65,110.91 544.52,113.51 546.64,117.89 547.73,114.76 549.57,116.73 551.21,115.72 552.69,112.54 553.77,115.87 555.57,117.77 557.16,112.74 558.55,113.88 559.52,112.34 561.04,115.53 562.89,112.01 564.93,114.51 566.95,112.01 568.42,115.20 570.09,112.32 571.46,113.82 572.60,111.19 573.61,111.60 575.34,114.18 576.71,109.91 578.45,108.80 579.75,109.40 581.22,107.57 582.51,112.02 584.53,111.15 586.43,109.75 588.46,115.18 589.82,110.63 591.69,111.65 593.05,112.79 594.89,110.12 596.68,110.05 598.24,112.44 599.86,112.22 601.45,115.59 603.28,108.96 605.21,101.73 606.31,120.89 607.59,107.14 609.78,106.69 610.78,116.70 612.00,113.64 613.37,110.53 615.55,106.37 616.97,116.41 618.79,109.38 620.68,106.08 622.13,104.59 623.34,113.66 624.60,106.69 626.25,105.78 627.74,114.57 628.93,106.50 630.37,112.06 631.75,106.90 633.22,111.31 634.63,110.89 636.43,105.67 637.49,109.17 639.48,112.22 641.01,102.84 642.22,111.47 643.79,110.18 645.25,105.14 647.17,110.29 648.78,103.29 650.19,107.01 652.16,100.89 653.31,104.06 654.61,116.08 655.72,105.43 657.74,109.14 659.90,104.64 662.02,102.49 663.22,100.87 665.19,108.34" fill="none" stroke="#ff00ff" stroke-width="1.0" stroke-linejoin="round" />
<polyline points="410.60,194.32 413.49,197.65 415.67,195.27 418.63,190.78 420.79,188.41 423.91,184.29 426.16,182.87 429.25,178.92 432.23,176.85 434.45,173.30 437.45,171.04 439.83,167.77 441.84,167.07 445.19,163.15 448.18,161.30 450.69,158.66 453.33,157.23 456.09,154.47 458.68,153.12 460.80,150.97 463.64,149.99 466.58,146.64 468.62,146.61 471.44,143.69 474.61,142.21 476.75,139.36 479.69,138.11 482.45,134.97 485.23,133.78 487.61,130.93 489.89,129.92 491.89,127.67 494.71,126.23 496.59,123.61 498.56,122.36 500.57,119.68 503.32,117.51 505.71,114.71 508.05,114.08 510.68,111.14 512.96,110.19 516.20,107.56 519.09,106.92 521.83,104.92 524.09,104.50 525.97,102.28 528.98,100.13 532.00,98.21 534.69,97.26 537.19,95.54 539.18,94.80 541.48,92.54 543.50,92.17 546.68,89.39 549.34,89.13 551.66,87.14 553.68,86.68 556.85,85.24 559.25,85.13 561.40,83.68 564.68,83.63 567.19,82.55 570.32,83.16 572.35,82.41 575.01,82.99 577.29,82.52 579.16,83.69 582.10,83.86 585.18,85.48 588.30,86.51 591.31,89.04 594.68,90.64 597.73,93.18 599.59,93.93 602.87,95.88 606.02,96.49 609.03,97.92 611.57,98.33 613.69,100.32 615.81,100.62 618.91,102.95 621.65,104.20 624.25,106.09 626.40,106.22 628.89,108.25 632.05,109.50 634.11,110.85 637.38,112.28 640.15,114.33 641.98,114.90 644.33,116.52 647.25,117.97 650.22,120.17 653.49,121.42 656.38,123.90 659.12,123.46 662.07,123.50 664.89,121.88" fill="none" stroke="#ff0000" stroke-width="1.1" stroke-linejoin="round" />
<polyline points="410.60,215.22 413.00,210.95 414.88,209.25 416.82,205.57 419.38,203.61 422.11,199.62 424.72,196.42 426.98,192.64 429.38,190.96 431.03,188.83 433.11,186.33 435.45,182.13 437.14,180.75 438.92,178.60 441.13,176.13 442.96,173.08 444.64,171.50 446.55,168.65 448.24,166.53 450.41,163.08 452.55,160.80 454.88,157.22 456.73,155.75 458.36,153.09 460.65,150.61 463.44,147.35 465.73,145.89 467.67,143.54 469.83,141.77 471.41,140.15 473.73,138.80 475.74,136.48 477.47,135.61 480.17,133.11 482.50,131.21 485.05,127.79 487.38,126.02 489.59,122.50 491.63,121.23 494.19,117.83 496.54,116.05 498.70,113.50 500.38,112.65 502.10,110.67 504.36,108.92 506.24,106.33 507.95,104.89 510.45,102.17 512.28,100.93 514.29,98.20 516.56,96.55 518.46,94.57 521.14,92.35 523.91,89.06 526.59,87.30 529.29,83.78 530.92,82.69 532.64,80.35 534.18,79.38 536.38,76.35 539.20,74.13 541.59,71.55 543.44,71.05 546.17,68.32 548.30,67.99 549.88,66.70 552.48,65.97 554.71,63.86 557.44,63.10 559.74,61.43 562.18,61.15 563.99,59.94 566.15,59.30 567.85,58.06 569.73,57.95 571.39,56.82 572.97,57.41 575.36,56.08 577.20,57.51 579.67,57.67 582.12,59.78 584.29,60.54 586.48,62.78 588.26,63.03 590.93,65.58 593.17,66.46 595.61,68.54 597.64,68.89 600.23,71.29 601.86,72.12 604.59,74.19 606.76,75.00 608.77,77.17 610.77,77.91 612.88,79.90 615.61,81.82 618.19,84.52 620.03,85.52 621.72,87.51 624.28,88.63 626.90,91.43 629.22,92.62 631.76,94.89 633.47,95.47 636.10,98.01 637.76,98.55 640.49,101.05 642.66,101.87 645.07,104.28 647.80,105.27 649.94,107.56 652.32,108.85 653.88,110.40 655.74,111.78 658.31,113.56 660.41,112.82 662.51,113.06 664.79,112.17" fill="none" stroke="#00ffff" stroke-width="1.2" stroke-linejoin="round" />
<polyline points="388.80,252.00 390.00,263.70 392.00,259.00 393.50,255.40 395.00,242.50 396.00,250.70 398.00,246.00 400.00,248.30 402.00,244.80 404.00,247.00 405.00,255.40 406.00,240.00 407.00,227.00 408.00,235.40 409.00,229.50 410.00,223.60 411.00,221.00 414.00,214.00 416.00,216.00 418.00,208.00 420.00,206.00 422.00,201.00 423.30,198.00 425.00,196.00 426.60,193.00 428.00,195.00 429.90,191.50 431.50,192.00 433.20,188.50 434.20,191.00 434.80,180.00 436.50,181.00 438.00,178.50 439.80,180.00 441.50,175.50 443.10,176.00 444.75,174.74 446.40,170.00 448.20,170.98 450.00,165.00 451.67,165.70 453.33,157.02 455.00,157.20 456.40,157.67 457.80,150.50 459.20,156.75 460.60,148.55 462.00,150.00 463.33,152.48 464.67,147.25 466.00,150.06 467.33,146.04 468.67,151.22 470.00,147.70 471.43,148.23 472.86,142.08 474.29,146.97 475.71,142.13 477.14,144.54 478.57,137.81 480.00,141.40 481.43,143.86 482.86,137.30 484.29,142.69 485.71,138.35 487.14,141.14 488.57,136.40 490.00,138.30 491.67,138.20 493.33,131.78 495.00,133.60 496.57,131.75 498.13,124.24 499.70,121.90 501.27,122.01 502.83,114.48 504.40,113.00 505.97,114.38 507.55,106.86 509.12,109.62 510.70,105.20 512.27,105.09 513.83,98.69 515.40,98.90 517.00,99.46 518.60,95.48 520.20,95.70 522.15,96.54 524.10,91.00 524.60,103.60 525.70,87.90 526.40,80.00 528.00,84.70 530.35,83.73 532.70,81.60 534.30,80.00 536.65,78.34 539.00,74.20 540.80,70.40 541.50,88.00 542.00,60.30 544.00,62.80 546.50,61.60 547.80,64.00 550.30,59.00 552.80,65.30 554.70,63.35 556.60,60.30 557.40,40.20 559.10,23.80 560.40,49.00 561.60,33.90 564.20,37.70 566.70,50.30 569.20,47.70 571.70,50.30 573.60,51.11 575.50,49.00 578.00,47.70 579.50,50.00 580.00,5.00 580.60,140.00 581.20,5.00 582.20,8.00 583.00,28.00 584.50,38.00 586.70,46.70 590.00,50.00 593.30,51.70 596.00,50.00 598.00,52.32 600.00,51.90 603.00,53.50 606.30,51.90 607.90,55.00 610.00,29.90 612.00,40.90 613.50,20.40 615.10,47.20 617.30,47.20 620.40,59.70 623.60,66.00 626.70,67.60 628.90,78.60 630.50,56.60 631.40,83.30 633.00,73.90 636.20,75.50 637.70,55.00 638.40,81.80 640.90,73.90 644.00,75.50 647.20,77.00 648.70,73.90 650.30,75.50 651.90,69.20 654.10,34.60 655.70,50.30 657.20,37.70 658.50,70.80 659.70,62.90 661.30,34.60 662.90,47.20 664.50,40.90 666.00,45.00" fill="none" stroke="#0000ff" stroke-width="1.0" stroke-linejoin="round" />
</g>
<rect x="388.80" y="5.10" width="276.60" height="276.10" fill="none" stroke="#1a1a1a" stroke-width="1.05"/>
<path d="M394.12 281.20v-4.1M394.12 5.10v4.1M399.44 281.20v-4.1M399.44 5.10v4.1M404.76 281.20v-4.1M404.76 5.10v4.1M410.08 281.20v-4.1M410.08 5.10v4.1M415.40 281.20v-4.1M415.40 5.10v4.1M420.72 281.20v-4.1M420.72 5.10v4.1M426.03 281.20v-4.1M426.03 5.10v4.1M431.35 281.20v-4.1M431.35 5.10v4.1M436.67 281.20v-4.1M436.67 5.10v4.1M441.99 281.20v-8.2M441.99 5.10v8.2M447.31 281.20v-4.1M447.31 5.10v4.1M452.63 281.20v-4.1M452.63 5.10v4.1M457.95 281.20v-4.1M457.95 5.10v4.1M463.27 281.20v-4.1M463.27 5.10v4.1M468.59 281.20v-4.1M468.59 5.10v4.1M473.91 281.20v-4.1M473.91 5.10v4.1M479.23 281.20v-4.1M479.23 5.10v4.1M484.55 281.20v-4.1M484.55 5.10v4.1M489.87 281.20v-4.1M489.87 5.10v4.1M495.18 281.20v-8.2M495.18 5.10v8.2M500.50 281.20v-4.1M500.50 5.10v4.1M505.82 281.20v-4.1M505.82 5.10v4.1M511.14 281.20v-4.1M511.14 5.10v4.1M516.46 281.20v-4.1M516.46 5.10v4.1M521.78 281.20v-4.1M521.78 5.10v4.1M527.10 281.20v-4.1M527.10 5.10v4.1M532.42 281.20v-4.1M532.42 5.10v4.1M537.74 281.20v-4.1M537.74 5.10v4.1M543.06 281.20v-4.1M543.06 5.10v4.1M548.38 281.20v-8.2M548.38 5.10v8.2M553.70 281.20v-4.1M553.70 5.10v4.1M559.02 281.20v-4.1M559.02 5.10v4.1M564.33 281.20v-4.1M564.33 5.10v4.1M569.65 281.20v-4.1M569.65 5.10v4.1M574.97 281.20v-4.1M574.97 5.10v4.1M580.29 281.20v-4.1M580.29 5.10v4.1M585.61 281.20v-4.1M585.61 5.10v4.1M590.93 281.20v-4.1M590.93 5.10v4.1M596.25 281.20v-4.1M596.25 5.10v4.1M601.57 281.20v-8.2M601.57 5.10v8.2M606.89 281.20v-4.1M606.89 5.10v4.1M612.21 281.20v-4.1M612.21 5.10v4.1M617.53 281.20v-4.1M617.53 5.10v4.1M622.85 281.20v-4.1M622.85 5.10v4.1M628.17 281.20v-4.1M628.17 5.10v4.1M633.48 281.20v-4.1M633.48 5.10v4.1M638.80 281.20v-4.1M638.80 5.10v4.1M644.12 281.20v-4.1M644.12 5.10v4.1M649.44 281.20v-4.1M649.44 5.10v4.1M654.76 281.20v-8.2M654.76 5.10v8.2M660.08 281.20v-4.1M660.08 5.10v4.1M388.80 277.75h4.1M665.40 277.75h-4.1M388.80 274.30h4.1M665.40 274.30h-4.1M388.80 270.85h4.1M665.40 270.85h-4.1M388.80 267.39h4.1M665.40 267.39h-4.1M388.80 263.94h4.1M665.40 263.94h-4.1M388.80 260.49h4.1M665.40 260.49h-4.1M388.80 257.04h4.1M665.40 257.04h-4.1M388.80 253.59h4.1M665.40 253.59h-4.1M388.80 250.14h4.1M665.40 250.14h-4.1M388.80 246.69h8.2M665.40 246.69h-8.2M388.80 243.24h4.1M665.40 243.24h-4.1M388.80 239.78h4.1M665.40 239.78h-4.1M388.80 236.33h4.1M665.40 236.33h-4.1M388.80 232.88h4.1M665.40 232.88h-4.1M388.80 229.43h4.1M665.40 229.43h-4.1M388.80 225.98h4.1M665.40 225.98h-4.1M388.80 222.53h4.1M665.40 222.53h-4.1M388.80 219.08h4.1M665.40 219.08h-4.1M388.80 215.63h4.1M665.40 215.63h-4.1M388.80 212.17h8.2M665.40 212.17h-8.2M388.80 208.72h4.1M665.40 208.72h-4.1M388.80 205.27h4.1M665.40 205.27h-4.1M388.80 201.82h4.1M665.40 201.82h-4.1M388.80 198.37h4.1M665.40 198.37h-4.1M388.80 194.92h4.1M665.40 194.92h-4.1M388.80 191.47h4.1M665.40 191.47h-4.1M388.80 188.02h4.1M665.40 188.02h-4.1M388.80 184.56h4.1M665.40 184.56h-4.1M388.80 181.11h4.1M665.40 181.11h-4.1M388.80 177.66h8.2M665.40 177.66h-8.2M388.80 174.21h4.1M665.40 174.21h-4.1M388.80 170.76h4.1M665.40 170.76h-4.1M388.80 167.31h4.1M665.40 167.31h-4.1M388.80 163.86h4.1M665.40 163.86h-4.1M388.80 160.41h4.1M665.40 160.41h-4.1M388.80 156.96h4.1M665.40 156.96h-4.1M388.80 153.50h4.1M665.40 153.50h-4.1M388.80 150.05h4.1M665.40 150.05h-4.1M388.80 146.60h4.1M665.40 146.60h-4.1M388.80 143.15h8.2M665.40 143.15h-8.2M388.80 139.70h4.1M665.40 139.70h-4.1M388.80 136.25h4.1M665.40 136.25h-4.1M388.80 132.80h4.1M665.40 132.80h-4.1M388.80 129.34h4.1M665.40 129.34h-4.1M388.80 125.89h4.1M665.40 125.89h-4.1M388.80 122.44h4.1M665.40 122.44h-4.1M388.80 118.99h4.1M665.40 118.99h-4.1M388.80 115.54h4.1M665.40 115.54h-4.1M388.80 112.09h4.1M665.40 112.09h-4.1M388.80 108.64h8.2M665.40 108.64h-8.2M388.80 105.19h4.1M665.40 105.19h-4.1M388.80 101.73h4.1M665.40 101.73h-4.1M388.80 98.28h4.1M665.40 98.28h-4.1M388.80 94.83h4.1M665.40 94.83h-4.1M388.80 91.38h4.1M665.40 91.38h-4.1M388.80 87.93h4.1M665.40 87.93h-4.1M388.80 84.48h4.1M665.40 84.48h-4.1M388.80 81.03h4.1M665.40 81.03h-4.1M388.80 77.58h4.1M665.40 77.58h-4.1M388.80 74.13h8.2M665.40 74.13h-8.2M388.80 70.67h4.1M665.40 70.67h-4.1M388.80 67.22h4.1M665.40 67.22h-4.1M388.80 63.77h4.1M665.40 63.77h-4.1M388.80 60.32h4.1M665.40 60.32h-4.1M388.80 56.87h4.1M665.40 56.87h-4.1M388.80 53.42h4.1M665.40 53.42h-4.1M388.80 49.97h4.1M665.40 49.97h-4.1M388.80 46.52h4.1M665.40 46.52h-4.1M388.80 43.06h4.1M665.40 43.06h-4.1M388.80 39.61h8.2M665.40 39.61h-8.2M388.80 36.16h4.1M665.40 36.16h-4.1M388.80 32.71h4.1M665.40 32.71h-4.1M388.80 29.26h4.1M665.40 29.26h-4.1M388.80 25.81h4.1M665.40 25.81h-4.1M388.80 22.36h4.1M665.40 22.36h-4.1M388.80 18.91h4.1M665.40 18.91h-4.1M388.80 15.45h4.1M665.40 15.45h-4.1M388.80 12.00h4.1M665.40 12.00h-4.1M388.80 8.55h4.1M665.40 8.55h-4.1" stroke="#1a1a1a" stroke-width="1.0" fill="none"/>
<text class="tl" transform="translate(389.07,297.9) scale(1.1,1)" text-anchor="middle">400</text>
<text class="tl" transform="translate(442.27,297.9) scale(1.1,1)" text-anchor="middle">500</text>
<text class="tl" transform="translate(495.46,297.9) scale(1.1,1)" text-anchor="middle">600</text>
<text class="tl" transform="translate(548.65,297.9) scale(1.1,1)" text-anchor="middle">700</text>
<text class="tl" transform="translate(601.84,297.9) scale(1.1,1)" text-anchor="middle">800</text>
<text class="tl" transform="translate(655.04,297.9) scale(1.1,1)" text-anchor="middle">900</text>
<text class="tl" transform="translate(381.35,285.90) scale(1.1,1)" text-anchor="end">0.6</text>
<text class="tl" transform="translate(381.35,251.39) scale(1.1,1)" text-anchor="end">0.7</text>
<text class="tl" transform="translate(381.35,216.87) scale(1.1,1)" text-anchor="end">0.8</text>
<text class="tl" transform="translate(381.35,182.36) scale(1.1,1)" text-anchor="end">0.9</text>
<text class="tl" transform="translate(381.35,147.85) scale(1.1,1)" text-anchor="end">1</text>
<text class="tl" transform="translate(381.35,113.34) scale(1.1,1)" text-anchor="end">1.1</text>
<text class="tl" transform="translate(381.35,78.82) scale(1.1,1)" text-anchor="end">1.2</text>
<text class="tl" transform="translate(381.35,44.31) scale(1.1,1)" text-anchor="end">1.3</text>
<text class="tl" transform="translate(381.35,9.80) scale(1.1,1)" text-anchor="end">1.4</text>
<text class="al" transform="translate(464.05,315.3) scale(0.84,1)" textLength="103.51" lengthAdjust="spacing">WAVELENGTH</text>
<text class="al" x="557.35" y="315.3" textLength="32.65" lengthAdjust="spacingAndGlyphs">(nm)</text>
<text class="al2" transform="translate(354.0,144.2) rotate(-90)" text-anchor="middle" font-style="italic" font-size="14.5">r</text>
</svg></body></html>
